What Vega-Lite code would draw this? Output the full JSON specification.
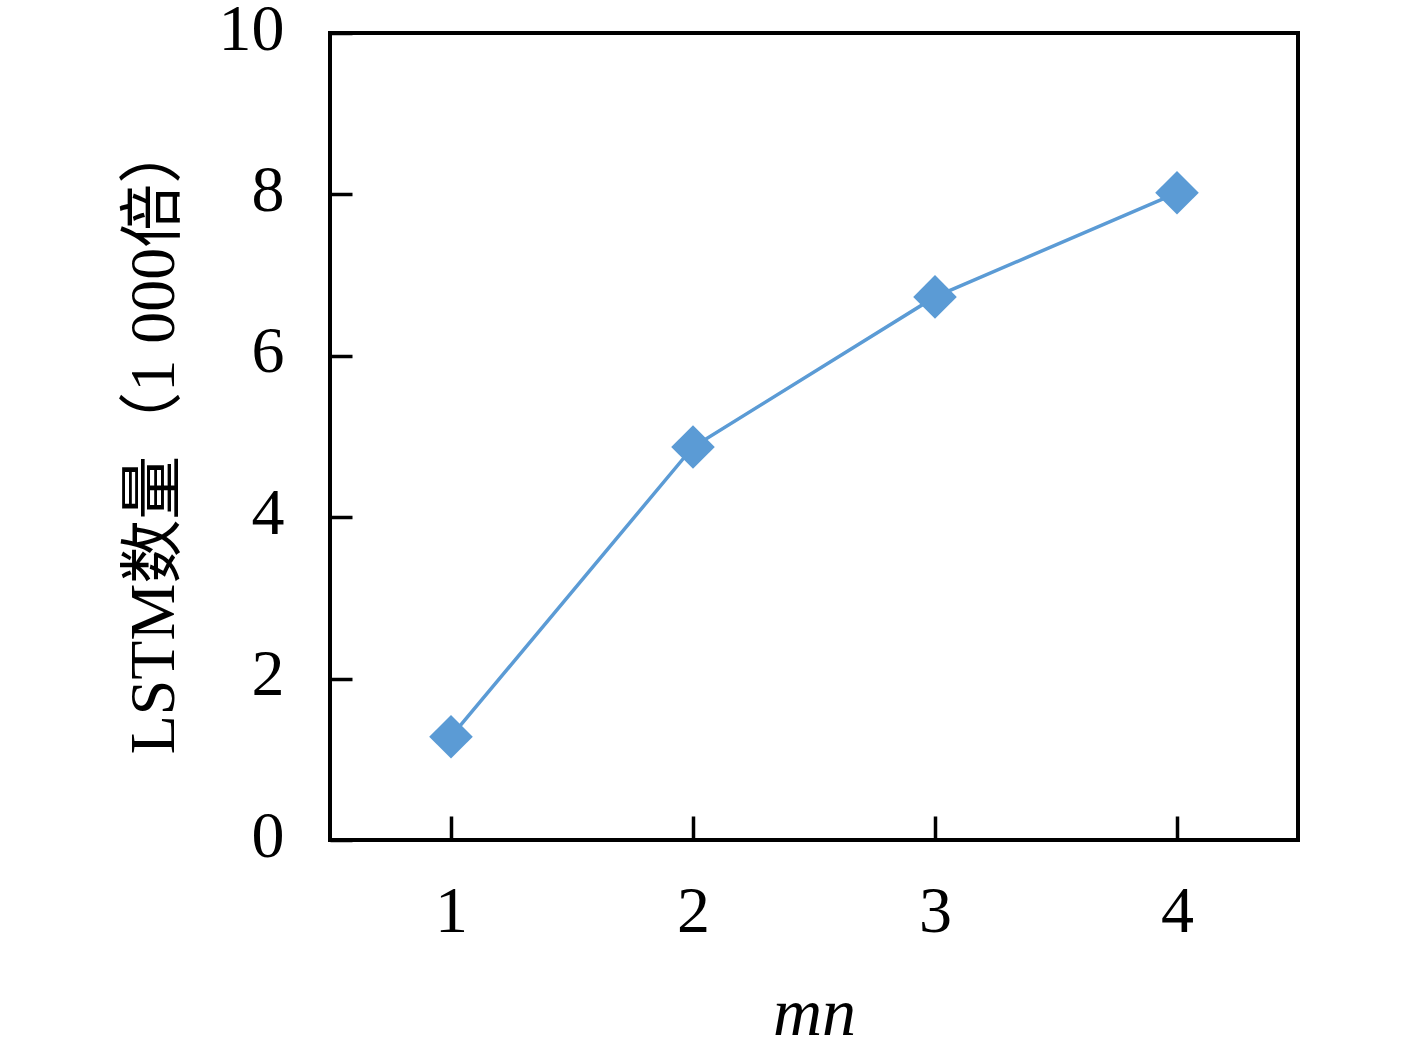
{
  "$schema": "https://vega.github.io/schema/vega-lite/v6.json",
  "width": 968,
  "height": 807,
  "autosize": "none",
  "padding": {"left": 330, "top": 33, "right": 119, "bottom": 199},
  "background": "white",
  "config": {
    "view": {"stroke": "black", "strokeWidth": 4},
    "axis": {
      "domain": false,
      "grid": false,
      "tickColor": "black",
      "tickWidth": 3.5,
      "labelFont": "Liberation Serif",
      "labelFontSize": 66,
      "labelColor": "black",
      "titleFont": "Liberation Serif, Noto Sans CJK SC",
      "titleFontSize": 64,
      "titleFontWeight": "normal",
      "titleColor": "black"
    }
  },
  "data": {
    "values": [
      {"mn": 1, "count": 1.28},
      {"mn": 2, "count": 4.87},
      {"mn": 3, "count": 6.73},
      {"mn": 4, "count": 8.02}
    ]
  },
  "layer": [
    {
      "mark": {"type": "line", "color": "#5B9BD5", "strokeWidth": 3.5},
      "encoding": {
        "x": {
          "field": "mn",
          "type": "quantitative",
          "scale": {"domain": [0.5, 4.5], "nice": false, "zero": false},
          "axis": {"values": [1, 2, 3, 4], "format": "d", "tickSize": -24, "labelPadding": 63, "title": "mn", "titleFontStyle": "italic", "titleFont": "Liberation Serif", "titleFontSize": 68, "titlePadding": 36}
        },
        "y": {
          "field": "count",
          "type": "quantitative",
          "scale": {"domain": [0, 10], "nice": false},
          "axis": {"values": [0, 2, 4, 6, 8, 10], "format": "d", "tickSize": -22, "labelPadding": 68, "labelOffset": -4, "title": "LSTM数量（1 000倍）", "titlePadding": 32}
        }
      }
    },
    {
      "mark": {"type": "point", "shape": "diamond", "filled": true, "color": "#5B9BD5", "opacity": 1, "size": 1900},
      "encoding": {
        "x": {"field": "mn", "type": "quantitative"},
        "y": {"field": "count", "type": "quantitative"}
      }
    }
  ]
}
